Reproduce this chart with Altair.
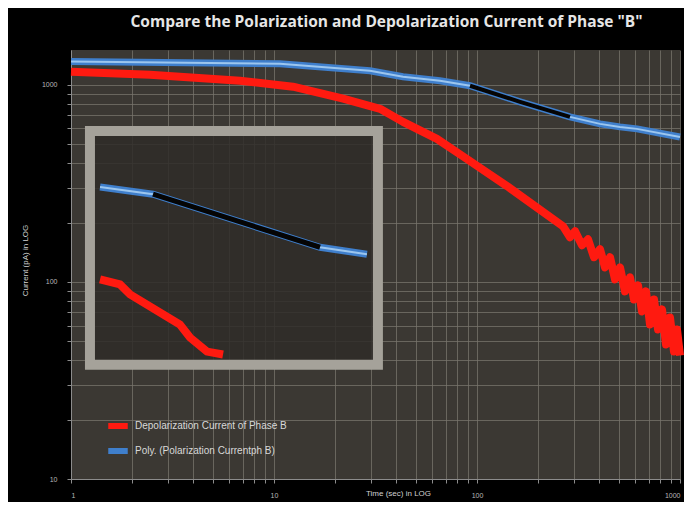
import altair as alt
import pandas as pd

title_text = 'Compare the Polarization and Depolarization  Current of  Phase "B"'
red_name = "Depolarization Current of Phase B"
blue_name = "Poly. (Polarization Currentph B)"
x_title = "Time (sec) in LOG"
y_title = "Current (pA) in LOG"

# Depolarization current (red)
red_t = [1, 2.45, 6.8, 12.4, 21.9, 33.3, 43.2, 63.5, 89.2, 140.6, 265.2, 287.2, 304.0,
         329.0, 352.2, 377.0, 403.6, 427.2, 452.1, 478.4, 506.3, 535.9, 567.2, 593.5,
         621.1, 649.9, 680.1, 711.7, 744.7, 779.3, 815.5, 853.2, 892.7, 934.1, 966.5, 1000]
red_i = [1164, 1124, 1048, 977, 849, 755, 648, 531, 420, 306, 191.6, 168.4, 180.7,
         153.4, 164.5, 133.3, 146.4, 118.5, 133.3, 103.0, 118.5, 89.5, 105.4, 81.4,
         96.0, 70.8, 89.5, 60.8, 81.4, 57.3, 72.5, 48.1, 66.0, 44.3, 57.3, 42.3]

# Polarization current (blue)
blue_t = [1, 10.7, 29.7, 43.2, 65.7, 92.4, 163, 287, 403.6, 506, 614, 1000]
blue_i = [1310, 1279, 1178, 1098, 1048, 988, 819, 687, 633, 611, 597, 543]
# dark segment over the blue curve
black_t = [92.4, 163, 287]
black_i = [988, 819, 687]

# inset box (in main-axis units)
frame_t = [1.24, 32.5]
frame_i = [583, 38]
inset_blue_t = [1.39, 2.535, 16.85, 28.7]
inset_blue_i = [303, 278.5, 149.8, 138]
inset_black_t = [2.535, 16.85]
inset_black_i = [278.5, 149.8]
inset_red_t = [1.39, 1.743, 1.953, 3.44, 3.857, 4.677, 5.61]
inset_red_i = [103, 97.1, 86.4, 60.8, 52.2, 44.3, 42.8]

x_grid = [1, 2, 3, 4, 5, 6, 7, 8, 9, 10, 20, 30, 40, 50, 60, 70, 80, 90,
          100, 200, 300, 400, 500, 600, 700, 800, 900, 1000]
y_grid = [10, 20, 30, 40, 50, 60, 70, 80, 90, 100, 200, 300, 400, 500, 600, 700, 800, 900, 1000]

red_df = pd.DataFrame({"t": red_t, "i": red_i, "s": red_name})
blue_df = pd.DataFrame({"t": blue_t, "i": blue_i, "s": blue_name})
black_df = pd.DataFrame({"t": black_t, "i": black_i})
frame_df = pd.DataFrame({"t": [frame_t[0]], "t2": [frame_t[1]], "i": [frame_i[0]], "i2": [frame_i[1]]})
ib_df = pd.DataFrame({"t": inset_blue_t, "i": inset_blue_i})
ik_df = pd.DataFrame({"t": inset_black_t, "i": inset_black_i})
ir_df = pd.DataFrame({"t": inset_red_t, "i": inset_red_i})

label_expr = "(datum.value == 1 || datum.value == 10 || datum.value == 100 || datum.value == 1000) ? datum.label : ''"

x_enc = alt.X("t:Q", scale=alt.Scale(type="log", domain=[1, 1000], nice=False),
              axis=alt.Axis(values=x_grid, labelExpr=label_expr, title=x_title,
                            format="d", titleX=327, titleY=14, titleBaseline="middle",
                            titleAlign="center", labelPadding=8, tickSize=4,
                            labelFontSize=7, titleFontSize=8))
y_enc = alt.Y("i:Q", scale=alt.Scale(type="log", domain=[10, 1500], nice=False),
              axis=alt.Axis(values=y_grid, labelExpr=label_expr, title=y_title,
                            format="d", titleX=-46, titleY=210, titleAngle=270,
                            titleBaseline="middle", titleAlign="center",
                            labelPadding=10, tickSize=4, labelFontSize=7, titleFontSize=8))

color_scale = alt.Scale(domain=[red_name, blue_name], range=["#ff1a10", "#3f7fcc"])

red_line = alt.Chart(red_df).mark_line(strokeWidth=8, strokeJoin="round").encode(
    x=x_enc, y=y_enc, color=alt.Color("s:N", scale=color_scale, title=None))
blue_outer = alt.Chart(blue_df).mark_line(strokeWidth=7).encode(
    x="t:Q", y="i:Q", color=alt.Color("s:N", scale=color_scale, title=None))
blue_inner = alt.Chart(blue_df).mark_line(strokeWidth=2, color="#9cc6ee").encode(x="t:Q", y="i:Q")
black_line = alt.Chart(black_df).mark_line(strokeWidth=4, color="#050505").encode(x="t:Q", y="i:Q")

frame = alt.Chart(frame_df).mark_rect(fill="#2f2c28", fillOpacity=0.85, stroke="#a5a29a",
                                      strokeWidth=10).encode(x="t:Q", x2="t2:Q", y="i:Q", y2="i2:Q")
ib_outer = alt.Chart(ib_df).mark_line(strokeWidth=7, color="#3f7fcc").encode(x="t:Q", y="i:Q")
ib_inner = alt.Chart(ib_df).mark_line(strokeWidth=2, color="#9cc6ee").encode(x="t:Q", y="i:Q")
ik_line = alt.Chart(ik_df).mark_line(strokeWidth=5, color="#050505").encode(x="t:Q", y="i:Q")
ir_line = alt.Chart(ir_df).mark_line(strokeWidth=8, color="#ff1a10").encode(x="t:Q", y="i:Q")

chart = alt.layer(
    red_line, blue_outer, blue_inner, black_line,
    frame, ib_outer, ib_inner, ik_line, ir_line
).properties(
    width=609, height=429,
    background="#000000",
    padding={"left": 63, "right": 4, "top": 42, "bottom": 23},
    autosize=alt.AutoSizeParams(type="none"),
    title=alt.TitleParams(title_text, fontSize=15.5, font="Open Sans", fontWeight="bold",
                          color="#e6e6e6", offset=17, dx=11, anchor="middle"),
).configure_view(
    fill="#3b3833", stroke=None
).configure_axis(
    gridColor="#7a766e", gridWidth=1, gridOpacity=0.75,
    domainColor="#8c8c8c", tickColor="#8c8c8c",
    labelColor="#b8b8b8", titleColor="#d0d0d0",
    labelFont="Liberation Sans", titleFont="Liberation Sans", titleFontWeight="normal"
).configure_legend(
    orient="none", legendX=34, legendY=363, symbolType="stroke",
    symbolStrokeWidth=6, symbolSize=380, labelFontSize=10, labelColor="#d8d8d8",
    labelFont="Liberation Sans", rowPadding=0, labelLimit=400, labelOffset=4
)

chart.save("out.html", embed_options={"renderer": "svg", "actions": False})
